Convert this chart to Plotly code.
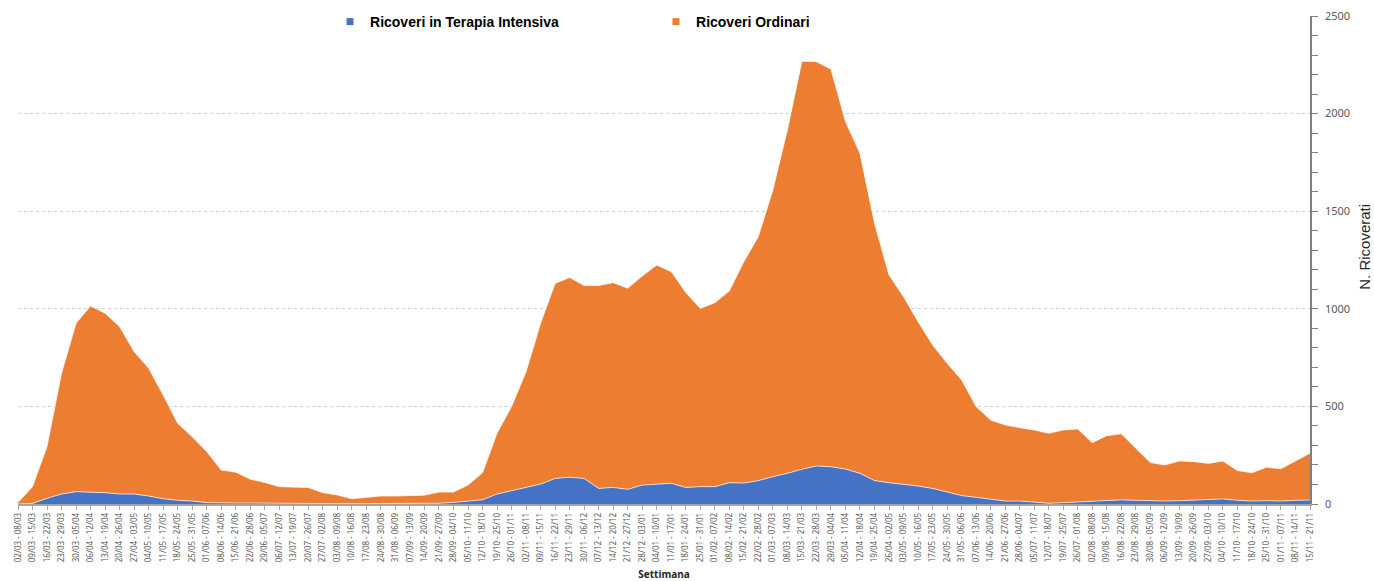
import plotly.graph_objects as go

weeks = [
    "02/03 - 08/03", "09/03 - 15/03", "16/03 - 22/03", "23/03 - 29/03", "30/03 - 05/04",
    "06/04 - 12/04", "13/04 - 19/04", "20/04 - 26/04", "27/04 - 03/05", "04/05 - 10/05",
    "11/05 - 17/05", "18/05 - 24/05", "25/05 - 31/05", "01/06 - 07/06", "08/06 - 14/06",
    "15/06 - 21/06", "22/06 - 28/06", "29/06 - 05/07", "06/07 - 12/07", "13/07 - 19/07",
    "20/07 - 26/07", "27/07 - 02/08", "03/08 - 09/08", "10/08 - 16/08", "17/08 - 23/08",
    "24/08 - 30/08", "31/08 - 06/09", "07/09 - 13/09", "14/09 - 20/09", "21/09 - 27/09",
    "28/09 - 04/10", "05/10 - 11/10", "12/10 - 18/10", "19/10 - 25/10", "26/10 - 01/11",
    "02/11 - 08/11", "09/11 - 15/11", "16/11 - 22/11", "23/11 - 29/11", "30/11 - 06/12",
    "07/12 - 13/12", "14/12 - 20/12", "21/12 - 27/12", "28/12 - 03/01", "04/01 - 10/01",
    "11/01 - 17/01", "18/01 - 24/01", "25/01 - 31/01", "01/02 - 07/02", "08/02 - 14/02",
    "15/02 - 21/02", "22/02 - 28/02", "01/03 - 07/03", "08/03 - 14/03", "15/03 - 21/03",
    "22/03 - 28/03", "29/03 - 04/04", "05/04 - 11/04", "12/04 - 18/04", "19/04 - 25/04",
    "26/04 - 02/05", "03/05 - 09/05", "10/05 - 16/05", "17/05 - 23/05", "24/05 - 30/05",
    "31/05 - 06/06", "07/06 - 13/06", "14/06 - 20/06", "21/06 - 27/06", "28/06 - 04/07",
    "05/07 - 11/07", "12/07 - 18/07", "19/07 - 25/07", "26/07 - 01/08", "02/08 - 08/08",
    "09/08 - 15/08", "16/08 - 22/08", "23/08 - 29/08", "30/08 - 05/09", "06/09 - 12/09",
    "13/09 - 19/09", "20/09 - 26/09", "27/09 - 03/10", "04/10 - 10/10", "11/10 - 17/10",
    "18/10 - 24/10", "25/10 - 31/10", "01/11 - 07/11", "08/11 - 14/11", "15/11 - 21/11",
]

terapia_intensiva = [
    0, 3, 29, 51, 63, 60, 58, 51, 51, 41,
    27, 19, 15, 7, 5, 5, 5, 4, 3, 2,
    2, 2, 2, 2, 2, 2, 3, 3, 4, 4,
    8, 14, 22, 51, 68, 85, 102, 131, 137, 131,
    80, 85, 75, 97, 102, 106, 85, 89, 89, 109,
    107, 120, 140, 157, 178, 195, 191, 179, 157, 120,
    109, 101, 92, 80, 63, 43, 34, 26, 15, 15,
    10, 4, 7, 9, 14, 18, 21, 19, 17, 15,
    17, 20, 22, 26, 19, 15, 17, 15, 19, 20,
]

ordinari = [
    8, 86, 265, 619, 863, 954, 919, 857, 729, 654,
    531, 394, 330, 261, 169, 158, 122, 106, 86, 83,
    82, 56, 44, 25, 33, 39, 38, 41, 41, 57,
    53, 83, 138, 311, 431, 593, 824, 999, 1023, 988,
    1039, 1049, 1030, 1071, 1122, 1084, 999, 913, 942, 982,
    1134, 1250, 1469, 1759, 2090, 2071, 2036, 1780, 1639, 1318,
    1064, 961, 842, 735, 658, 592, 465, 404, 390, 376,
    369, 358, 372, 375, 300, 332, 339, 266, 195, 185,
    203, 197, 186, 194, 152, 145, 171, 166, 203, 240,
]

series_names = ["Ricoveri in Terapia Intensiva", "Ricoveri Ordinari"]
series_colors = ["#4472C4", "#ED7D31"]

idx = list(range(len(weeks)))

fig = go.Figure()
for name, vals, col in zip(series_names, [terapia_intensiva, ordinari], series_colors):
    fig.add_trace(go.Scatter(
        x=idx, y=vals, name=name, showlegend=False,
        stackgroup="one", mode="lines",
        line=dict(width=0.8, color="rgba(255,255,255,0.85)"),
        fillcolor=col, hoverinfo="x+y+name",
    ))
# legend-only entries with square symbols
for name, col in zip(series_names, series_colors):
    fig.add_trace(go.Scatter(
        x=[None], y=[None], name=name, mode="markers",
        marker=dict(symbol="square", size=7, color=col),
    ))

fig.update_layout(
    width=1374, height=581,
    margin=dict(l=18, r=64, t=16, b=77, autoexpand=False),
    paper_bgcolor="white", plot_bgcolor="white",
    font=dict(family="Liberation Sans", color="#595959"),
    showlegend=True,
    legend=dict(
        orientation="h", x=0.2415, y=0.9621, yref="container",
        xanchor="left", yanchor="middle",
        font=dict(family="Liberation Sans", size=14, color="#000000", weight="bold"),
        entrywidth=281, entrywidthmode="pixels", traceorder="normal",
        itemwidth=30, bgcolor="rgba(0,0,0,0)",
    ),
    xaxis=dict(
        range=[0, len(weeks) - 1], automargin=False,
        tickmode="array", tickvals=idx, ticktext=weeks,
        tickangle=-90, tickfont=dict(family="Noto Sans", size=8, color="#595959"),
        showgrid=False, zeroline=False,
        showline=True, linecolor="#A6A6A6", linewidth=1.5,
        ticks="outside", ticklen=4, tickcolor="#A6A6A6",
        title=dict(text="<b>Settimana</b>", font=dict(family="Noto Sans", size=10, color="#262626"),
                   standoff=10),
        fixedrange=True,
    ),
    yaxis=dict(
        side="right", range=[0, 2500], automargin=False,
        tickmode="array", tickvals=[0, 500, 1000, 1500, 2000, 2500],
        ticktext=["0", "500", "1000", "1500", "2000", "2500"],
        ticklabeloverflow="allow", ticklabelstandoff=5,
        tickfont=dict(family="Noto Sans", size=11, color="#595959"),
        showgrid=True, gridcolor="#CFCFCF", griddash="dot", gridwidth=1,
        zeroline=False,
        showline=True, linecolor="#7F7F7F", linewidth=1.5,
        ticks="outside", ticklen=6, tickcolor="#7F7F7F",
        minor=dict(dtick=100, ticks="outside", ticklen=6, tickcolor="#7F7F7F", showgrid=False),
        fixedrange=True,
    ),
    annotations=[dict(
        text="N. Ricoverati", textangle=-90, showarrow=False,
        xref="paper", yref="paper", x=1.0425, y=0.527,
        xanchor="center", yanchor="middle",
        font=dict(family="Liberation Sans", size=15, color="#262626"),
    )],
)

fig.write_html(
    "out.html",
    config={"displayModeBar": False},
    post_script="document.body.style.margin='0';document.body.style.overflow='hidden';",
)
